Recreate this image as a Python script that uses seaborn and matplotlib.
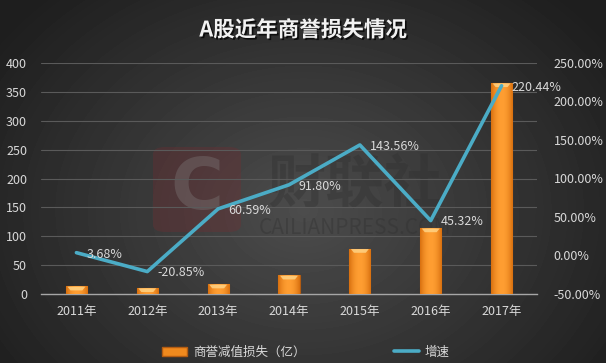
import numpy as np
import pandas as pd
import matplotlib
matplotlib.use("Agg")
import matplotlib.pyplot as plt
import matplotlib.patheffects as pe
from matplotlib.patches import Patch, FancyBboxPatch
from matplotlib.lines import Line2D
from matplotlib.colors import LinearSegmentedColormap
import seaborn as sns

# data
years = ["2011年", "2012年", "2013年", "2014年", "2015年", "2016年", "2017年"]
loss = [13.2, 10.4, 16.8, 32.2, 78.4, 114.0, 365.3]
growth = [3.68, -20.85, 60.59, 91.80, 143.56, 45.32, 220.44]
growth_labels = ["3.68%", "-20.85%", "60.59%", "91.80%", "143.56%", "45.32%", "220.44%"]

df = pd.DataFrame({"year": years, "loss": loss, "growth": growth})

sns.set_theme(style="dark")
plt.rcParams["font.family"] = ["Noto Sans CJK SC", "DejaVu Sans"]
plt.rcParams["axes.unicode_minus"] = False

txt = "#d9d9d9"
orange = "#f08a1e"
blue = "#4bacc6"

fig = plt.figure(figsize=(6.06, 3.63), dpi=100)

# radial background
bg = fig.add_axes([0, 0, 1, 1])
yy, xx = np.mgrid[0:363, 0:606]
r = np.sqrt(((xx - 303) / 330.0) ** 2 + ((yy - 210) / 260.0) ** 2)
shade = np.clip(0.30 - 0.16 * r, 0.12, 0.30)
bg.imshow(shade, cmap="gray", vmin=0, vmax=1, aspect="auto", extent=[0, 1, 0, 1])
bg.set_axis_off()

# watermark
bg.add_patch(FancyBboxPatch((153 / 606, 1 - 232 / 363), 88 / 606, 85 / 363,
                            boxstyle="round,pad=0,rounding_size=0.02",
                            transform=bg.transAxes, facecolor="#7a2a30", alpha=0.3,
                            edgecolor="none", zorder=2))
bg.text(197 / 606, 1 - 190 / 363, "C", transform=bg.transAxes, ha="center", va="center",
        fontsize=52, fontweight="bold", color="#8a8a8a", alpha=0.3, family="DejaVu Sans")
bg.text(355 / 606, 1 - 185 / 363, "财联社", transform=bg.transAxes, ha="center", va="center",
        fontsize=42, fontweight="bold", color="#2e2e2e", alpha=0.35)
bg.text(355 / 606, 1 - 228 / 363, "CAILIANPRESS.COM", transform=bg.transAxes, ha="center",
        va="center", fontsize=15, color="#2e2e2e", alpha=0.35)

ax = fig.add_axes([41 / 606, 1 - 294 / 363, 496 / 606, 231 / 363])
ax.patch.set_alpha(0)

sns.barplot(data=df, x="year", y="loss", color=orange, width=0.3, ax=ax,
            saturation=1, edgecolor="#b35c12", linewidth=0.8, zorder=3)

# soft horizontal gradient and top bevel on bars
g = np.linspace(0, 1, 60)
g = 1 - (np.abs(g - 0.5) * 2) ** 2
bar_cmap = LinearSegmentedColormap.from_list("o", ["#d8700f", "#ff9e32"])
for p in ax.patches:
    x0, y0 = p.get_x(), p.get_y()
    w, h = p.get_width(), p.get_height()
    im = ax.imshow(g[np.newaxis, :], cmap=bar_cmap, aspect="auto",
                   extent=[x0, x0 + w, y0, y0 + h], zorder=3.5)
    im.set_clip_path(p)
    top = min(h * 0.8, 7)
    ax.fill([x0 + w * 0.08, x0 + w * 0.92, x0 + w * 0.78, x0 + w * 0.22],
            [y0 + h - 0.6, y0 + h - 0.6, y0 + h - top, y0 + h - top],
            color="#ffd68a", alpha=0.8, zorder=4, linewidth=0)

ax.set_xlim(-0.5, 6.5)
ax.set_ylim(0, 400)
ax.set_yticks(range(0, 401, 50))
ax.set_xlabel("")
ax.set_ylabel("")
ax.grid(axis="y", color="#5a5a5a", linewidth=0.8)
ax.grid(axis="x", visible=False)
ax.set_axisbelow(True)
for s in ["top", "left", "right"]:
    ax.spines[s].set_visible(False)
ax.spines["bottom"].set_color("#a6a6a6")
ax.spines["bottom"].set_linewidth(1)
ax.tick_params(axis="both", colors=txt, labelsize=9, length=0)
ax.tick_params(axis="y", pad=10)
ax.tick_params(axis="x", pad=8)

ax2 = ax.twinx()
sns.lineplot(data=df, x="year", y="growth", color=blue, linewidth=2.6, ax=ax2,
             sort=False, zorder=5)
ax2.set_ylim(-50, 250)
ax2.set_yticks(range(-50, 251, 50))
ax2.set_yticklabels([f"{v:.2f}%" for v in range(-50, 251, 50)])
ax2.set_ylabel("")
ax2.grid(False)
for s in ["top", "left", "right", "bottom"]:
    ax2.spines[s].set_visible(False)
ax2.tick_params(axis="y", colors=txt, labelsize=9, length=0, pad=12)

for i, (v, lab) in enumerate(zip(growth, growth_labels)):
    ax2.annotate(lab, (i, v), xytext=(7, -1), textcoords="offset points",
                 ha="left", va="center", fontsize=9, color=txt, zorder=6)

title = fig.text(0.5, 1 - 30 / 363, "A股近年商誉损失情况", ha="center", va="center",
                 fontsize=15.5, fontweight="bold", color="#f2f2f2")
title.set_path_effects([pe.withSimplePatchShadow(offset=(1.2, -1.2), shadow_rgbFace="black", alpha=0.7)])

handles = [Patch(facecolor=orange, edgecolor="#b35c12"),
           Line2D([0], [0], color=blue, linewidth=2.6)]
fig.legend(handles, ["商誉减值损失（亿）", "增速"], loc="center",
           bbox_to_anchor=(0.505, 1 - 352 / 363), ncol=2, frameon=False,
           fontsize=9, labelcolor=txt, columnspacing=7, handlelength=2,
           handletextpad=0.5)

fig.savefig("out.png", dpi=100)
